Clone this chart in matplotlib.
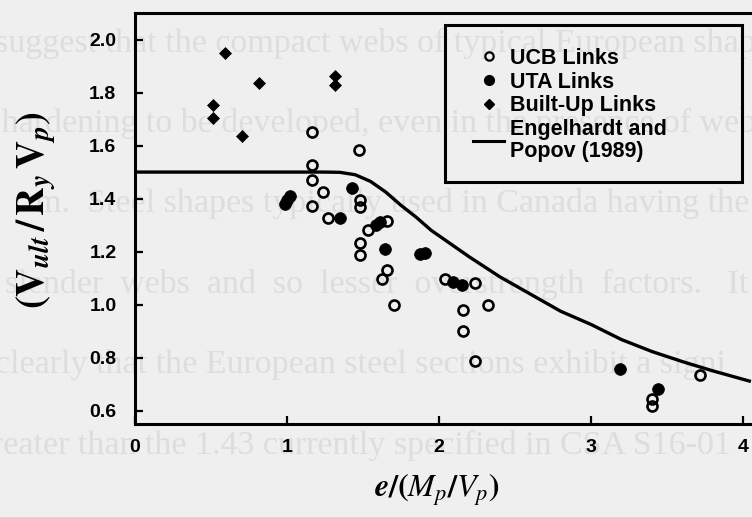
import matplotlib
matplotlib.use("Agg")

import matplotlib.pyplot as plt
from matplotlib.lines import Line2D
from matplotlib.patches import Rectangle

"""
Link overstrength V_ult/(R_y V_p) against normalised link length e/(M_p/V_p),
test data for three link groups with the Engelhardt and Popov (1989) curve.
"""

# UCB rolled-shape links (open circles)
ucb_x = [1.164, 1.164, 1.164, 1.236, 1.164, 1.273, 1.477, 1.48, 1.48, 1.535,
         1.66, 1.482, 1.482, 1.657, 1.624, 1.705, 2.04, 2.237, 2.16, 2.32,
         2.16, 2.24, 3.716, 3.398, 3.398]
ucb_y = [1.652, 1.527, 1.470, 1.426, 1.373, 1.326, 1.583, 1.395, 1.368, 1.283,
         1.315, 1.233, 1.187, 1.13, 1.095, 0.998, 1.095, 1.08, 0.98, 0.998,
         0.901, 0.787, 0.734, 0.643, 0.617]

# UTA links (filled circles)
uta_x = [0.99, 1.005, 1.02, 1.35, 1.427, 1.59, 1.615, 1.646, 1.875, 1.91,
         2.095, 2.15, 3.19, 3.441]
uta_y = [1.38, 1.395, 1.41, 1.326, 1.439, 1.30, 1.31, 1.209, 1.19, 1.195,
         1.086, 1.074, 0.756, 0.68]

# built-up links (filled diamonds)
bu_x = [0.594, 0.82, 0.514, 0.514, 0.704, 1.317, 1.317]
bu_y = [1.948, 1.837, 1.753, 1.705, 1.636, 1.862, 1.828]

# Engelhardt and Popov (1989)
ep_x = [0.0, 1.25, 1.35, 1.45, 1.55, 1.65, 1.75, 1.85, 1.95, 2.05, 2.2, 2.4,
        2.6, 2.8, 3.0, 3.2, 3.4, 3.6, 3.8, 4.05]
ep_y = [1.5, 1.5, 1.499, 1.49, 1.465, 1.425, 1.375, 1.33, 1.28, 1.24, 1.18,
        1.105, 1.04, 0.975, 0.925, 0.868, 0.823, 0.785, 0.75, 0.71]

x_ticks = [0, 1, 2, 3, 4]
y_ticks = [0.6, 0.8, 1.0, 1.2, 1.4, 1.6, 1.8, 2.0]

# page text showing through the scan (justified lines, so some wide gaps)
page_lines = [
    "suggest that the compact webs of typical European shapes",
    "e hardening to be developed, even in the presence of web",
    "m.  Steel shapes typically used in Canada having the",
    "slender  webs  and  so  lesser  overstrength  factors.   It",
    "clearly that the European steel sections exhibit a signi",
    "greater than the 1.43 currently specified in CSA S16-01",
]
page_x = [-5, -22, 35, 5, -5, -25]

W, H = 752, 517
bg = "#efefef"
plt.rcParams["mathtext.fontset"] = "stix"

fig = plt.figure(figsize=(W / 100, H / 100), dpi=100, facecolor=bg)

for i, s in enumerate(page_lines):
    fig.text(page_x[i] / W, 1 - (43 + 80.5 * i) / H, s, family="Liberation Serif",
             fontsize=24.5, color="#dddddd", va="center", ha="left", zorder=-5)

ax = fig.add_axes([134.5 / W, 1 - 423.5 / H, 1 - 134.5 / W, (423.5 - 12.5) / H])
ax.patch.set_alpha(0)

ax.plot(ep_x, ep_y, color="black", lw=2.4, solid_capstyle="butt", zorder=2)
ax.plot(ucb_x, ucb_y, ls="none", marker="o", ms=7.2, mfc="none", mec="black",
        mew=1.9, zorder=3)
ax.plot(uta_x, uta_y, ls="none", marker="o", ms=8.5, mfc="black", mec="black",
        mew=0.5, zorder=3)
ax.plot(bu_x, bu_y, ls="none", marker="D", ms=6.3, mfc="black", mec="black",
        mew=0.5, zorder=3)

ax.set_xlim(0, (W - 134.5) / 152.2)
ax.set_ylim(0.5515, 2.102)
ax.set_xticks(x_ticks)
ax.set_yticks(y_ticks)
ax.set_xticklabels([str(v) for v in x_ticks])
ax.set_yticklabels(["%.1f" % v for v in y_ticks])

for side in ["left", "bottom", "top"]:
    ax.spines[side].set_linewidth(2.2)
ax.spines["right"].set_visible(False)
ax.tick_params(direction="in", length=6, width=1.6, top=False, right=False)
ax.tick_params(axis="y", pad=13)
ax.tick_params(axis="x", pad=11)
for lab in ax.get_xticklabels() + ax.get_yticklabels():
    lab.set_family("Liberation Sans")
    lab.set_fontweight("bold")
    lab.set_fontsize(14)

fig.text(36 / W, 1 - 210 / H,
         r"$\mathbf{(V}_{\boldsymbol{ult}}\,\mathbf{/}\,\mathbf{R}_{\boldsymbol{y}}"
         r"\,\mathbf{V}_{\boldsymbol{p}}\mathbf{)}$",
         rotation=90, fontsize=28, ha="center", va="center")
fig.text(437 / W, 1 - 490 / H, r"$\boldsymbol{e/(M_p/V_p)}$",
         fontsize=23, ha="center", va="center")

# legend: box drawn separately so it can be wider than its entries
ax.add_patch(Rectangle((445 / W, 1 - 182 / H), (742 - 445) / W, (182 - 25) / H,
                       transform=fig.transFigure, fill=False, ec="black",
                       lw=2.2, clip_on=False, zorder=4))
handles = [
    Line2D([], [], ls="none", marker="o", ms=6, mfc="none", mec="black", mew=1.6),
    Line2D([], [], ls="none", marker="o", ms=7, mfc="black", mec="black"),
    Line2D([], [], ls="none", marker="D", ms=5.5, mfc="black", mec="black"),
    Line2D([], [], color="black", lw=2.2),
]
labels = ["UCB Links", "UTA Links", "Built-Up Links", "Engelhardt and\nPopov (1989)"]
leg = ax.legend(handles, labels, loc="upper left",
                bbox_to_anchor=(473 / W, 1 - 48 / H),
                bbox_transform=fig.transFigure, frameon=False, borderpad=0,
                borderaxespad=0, handlelength=1.45, handletextpad=0.25,
                labelspacing=0.12,
                prop={"family": "Liberation Sans", "weight": "bold", "size": 15.5})
leg.get_texts()[3].set_linespacing(1.05)

fig.savefig("out.png", dpi=100, facecolor=bg)
